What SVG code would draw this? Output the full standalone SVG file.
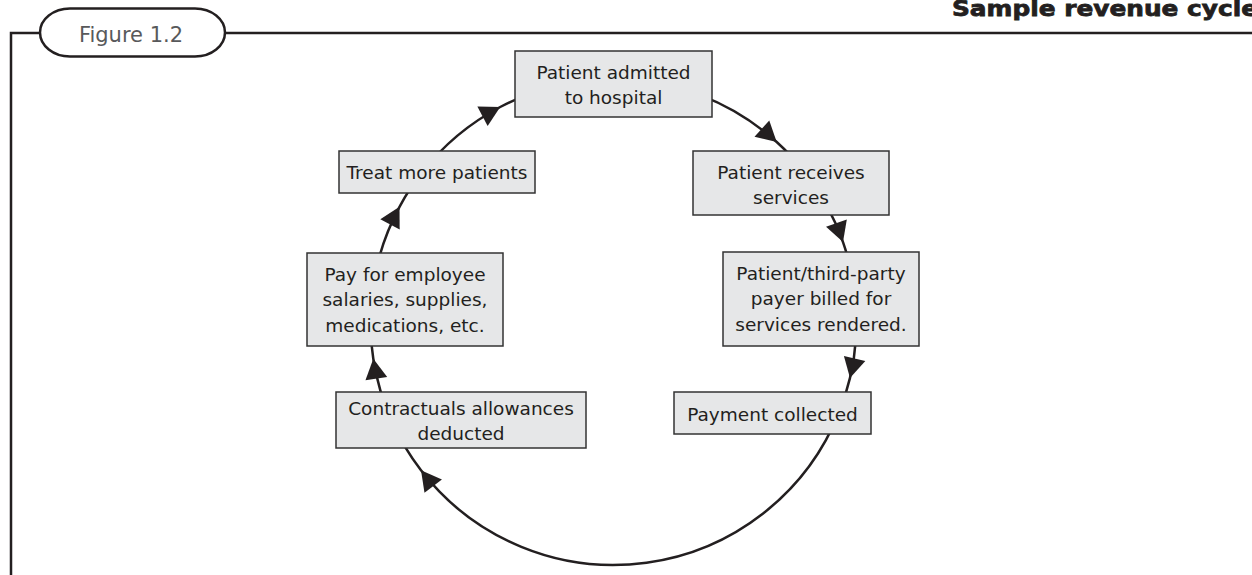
<svg xmlns="http://www.w3.org/2000/svg" width="1252" height="575" viewBox="0 0 1252 575">
<style>
.box{fill:#e6e7e8;stroke:#333;stroke-width:1.5}
.t{font-family:"DejaVu Sans",sans-serif;font-size:18.5px;fill:#231f20;text-anchor:middle}
.conn{fill:none;stroke:#231f20;stroke-width:2.5;marker-mid:url(#ah)}
.frame{fill:none;stroke:#231f20;stroke-width:2.5}
</style>
<defs>
<marker id="ah" markerUnits="userSpaceOnUse" markerWidth="22" markerHeight="24" refX="20" refY="11" orient="auto" overflow="visible">
<path d="M0,0 L20,11 L0,22 z" fill="#231f20"/>
</marker>
</defs>
<rect width="1252" height="575" fill="#fff"/>
<g id="frame">
<path class="frame" d="M11,575 V33 H1252"/>
<rect x="40" y="8.5" width="185" height="48" rx="30" ry="24" fill="#fff" stroke="#231f20" stroke-width="2.5"/>
<text x="131" y="42" font-family="DejaVu Sans, sans-serif" font-size="21" fill="#58595b" text-anchor="middle">Figure 1.2</text>
<text x="952" y="16" font-family="DejaVu Sans, sans-serif" font-size="22" font-weight="bold" fill="#231f20" stroke="#231f20" stroke-width="0.8" textLength="306" lengthAdjust="spacingAndGlyphs">Sample revenue cycle</text>
</g>
<g id="connectors">
<path class="conn" d="M613.5,79 A243,243 0 0 1 776.7,142.0 A243,243 0 0 1 805.0,172.4"/>
<path class="conn" d="M805.0,172.4 A243,243 0 0 1 843.0,242.1 A243,243 0 0 1 855.2,296.6"/>
<path class="conn" d="M855.2,296.6 A243,243 0 0 1 850.0,377.9 A243,243 0 0 1 838.8,413.0"/>
<path class="conn" d="M838.8,413.0 A243,243 0 0 1 421.0,470.3 A243,243 0 0 1 391.5,420.8"/>
<path class="conn" d="M391.5,420.8 A243,243 0 0 1 373.3,358.8 A243,243 0 0 1 371.5,299.5"/>
<path class="conn" d="M371.5,299.5 A243,243 0 0 1 399.5,206.8 A243,243 0 0 1 422.3,172.1"/>
<path class="conn" d="M422.3,172.1 A243,243 0 0 1 500.2,107.0 A243,243 0 0 1 613.5,79"/>
</g>
<g id="admitted">
<rect class="box" x="515" y="51" width="197" height="66"/>
<text class="t" x="613.5" y="78.5">Patient admitted</text>
<text class="t" x="613.5" y="103.5">to hospital</text>
</g>
<g id="receives">
<rect class="box" x="693" y="151" width="196" height="64"/>
<text class="t" x="791" y="179">Patient receives</text>
<text class="t" x="791" y="203.5">services</text>
</g>
<g id="billed">
<rect class="box" x="723" y="252" width="196" height="94"/>
<text class="t" x="821" y="279.5">Patient/third-party</text>
<text class="t" x="821" y="305">payer billed for</text>
<text class="t" x="821" y="330.5">services rendered.</text>
</g>
<g id="collected">
<rect class="box" x="674" y="392" width="197" height="42"/>
<text class="t" x="772.5" y="420.5">Payment collected</text>
</g>
<g id="contractuals">
<rect class="box" x="336" y="392" width="250" height="56"/>
<text class="t" x="461" y="415">Contractuals allowances</text>
<text class="t" x="461" y="440">deducted</text>
</g>
<g id="pay">
<rect class="box" x="307" y="253" width="196" height="93"/>
<text class="t" x="405" y="280.5">Pay for employee</text>
<text class="t" x="405" y="306">salaries, supplies,</text>
<text class="t" x="405" y="331.5">medications, etc.</text>
</g>
<g id="treat">
<rect class="box" x="339" y="151" width="196" height="42"/>
<text class="t" x="437" y="179">Treat more patients</text>
</g>
</svg>
